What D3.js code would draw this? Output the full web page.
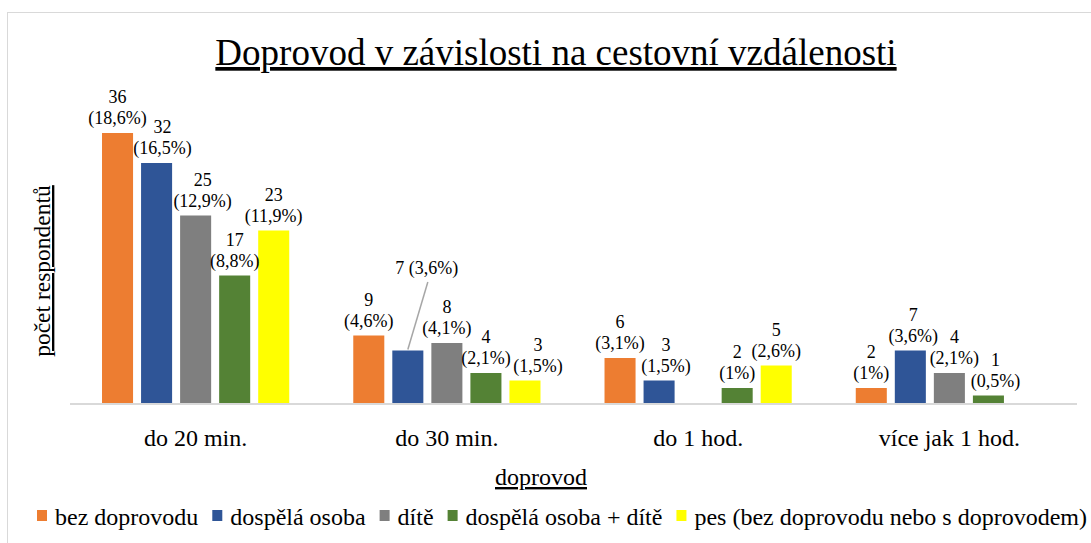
<!DOCTYPE html>
<html>
<head>
<meta charset="utf-8">
<script src="https://cdn.jsdelivr.net/npm/d3@7"></script>
<style>
  body { margin: 0; background: #fff; }
</style>
</head>
<body>
<svg id="chart" width="1091" height="543"></svg>
<script>
var categories = ["do 20 min.", "do 30 min.", "do 1 hod.", "více jak 1 hod."];
var seriesNames = ["bez doprovodu", "dospělá osoba", "dítě", "dospělá osoba + dítě", "pes (bez doprovodu nebo s doprovodem)"];
var colors = ["#ED7D31", "#2F5597", "#7F7F7F", "#548235", "#FFFF00"];
// values per series, one per category
var bezDoprovodu = [36, 9, 6, 2];
var dospelaOsoba = [32, 7, 3, 7];
var dite = [25, 8, 0, 4];
var dospelaDite = [17, 4, 2, 1];
var pes = [23, 3, 5, 0];
var pctBez = ["18,6%", "4,6%", "3,1%", "1%"];
var pctDospela = ["16,5%", "3,6%", "1,5%", "3,6%"];
var pctDite = ["12,9%", "4,1%", "", "2,1%"];
var pctDospelaDite = ["8,8%", "2,1%", "1%", "0,5%"];
var pctPes = ["11,9%", "1,5%", "2,6%", ""];

var values = [bezDoprovodu, dospelaOsoba, dite, dospelaDite, pes];
var pcts = [pctBez, pctDospela, pctDite, pctDospelaDite, pctPes];

// small label nudges (Excel moved some labels to avoid overlap)
var nudge = {"0|1": 6, "0|2": 7, "1|4": 13, "2|1": 7, "3|1": 3, "3|2": 5, "3|3": 7};

var FONT = "'Liberation Serif'";
var svg = d3.select("#chart");
var plotLeft = 70, plotRight = 1075, base = 403, plotTop = 103;

function addText(parent, size) {
  return parent.append("text").style("font-family", FONT).attr("font-size", size);
}

// frame
svg.append("rect").attr("x", 7.5).attr("y", 12.5).attr("width", 1100).attr("height", 560)
  .attr("fill", "none").attr("stroke", "#D9D9D9").attr("stroke-width", 1);

var x0 = d3.scaleBand().domain(categories).range([plotLeft, plotRight]);
var x1 = d3.scaleBand().domain(d3.range(seriesNames.length)).range([0, x0.bandwidth()])
  .paddingInner(8 / 39).paddingOuter(0.82);
var y = d3.scaleLinear().domain([0, 40]).range([base, plotTop]);

var rows = [];
categories.forEach(function(c, ci) {
  values.forEach(function(v, si) {
    if (v[ci] > 0) rows.push({cat: c, ci: ci, si: si, v: v[ci], p: pcts[si][ci]});
  });
});

svg.append("g").selectAll("rect").data(rows).enter().append("rect")
  .attr("x", function(d) { return x0(d.cat) + x1(d.si); })
  .attr("y", function(d) { return y(d.v); })
  .attr("width", x1.bandwidth())
  .attr("height", function(d) { return base - y(d.v); })
  .attr("fill", function(d) { return colors[d.si]; });

// axis line
svg.append("line").attr("x1", plotLeft).attr("x2", plotRight + 2).attr("y1", base + 1).attr("y2", base + 1)
  .attr("stroke", "#D9D9D9").attr("stroke-width", 2);

// data labels
var lab = svg.append("g").attr("text-anchor", "middle").attr("fill", "#000");
rows.forEach(function(d) {
  var cx = x0(d.cat) + x1(d.si) + x1.bandwidth() / 2;
  var ty = y(d.v);
  if (d.ci === 1 && d.si === 1) {
    // label pulled out with a leader line
    addText(lab, 18).attr("x", cx + 19).attr("y", 274).text(d.v + " (" + d.p + ")");
    svg.append("line").attr("x1", cx + 20).attr("y1", 282).attr("x2", cx).attr("y2", ty - 1)
      .attr("stroke", "#A6A6A6").attr("stroke-width", 1.5);
    return;
  }
  var dx = nudge[d.ci + "|" + d.si] || 0;
  addText(lab, 18).attr("x", cx + dx).attr("y", ty - 9).text("(" + d.p + ")");
  addText(lab, 18).attr("x", cx + dx).attr("y", ty - 30).text(d.v);
});

// category labels
categories.forEach(function(c) {
  addText(svg, 24).attr("x", x0(c) + x0.bandwidth() / 2).attr("y", 446)
    .attr("text-anchor", "middle").text(c);
});

// title
addText(svg, 37).attr("x", 556).attr("y", 65).attr("text-anchor", "middle")
  .attr("text-decoration", "underline").text("Doprovod v závislosti na cestovní vzdálenosti");

// axis titles
addText(svg, 24).attr("x", 541).attr("y", 485).attr("text-anchor", "middle")
  .attr("text-decoration", "underline").text("doprovod");
addText(svg, 23.5).attr("transform", "translate(50,271) rotate(-90)").attr("text-anchor", "middle")
  .attr("text-decoration", "underline").text("počet respondentů");

// legend
var lg = svg.append("g");
var lx = 37;
seriesNames.forEach(function(s, i) {
  lg.append("rect").attr("x", lx).attr("y", 510).attr("width", 10).attr("height", 11).attr("fill", colors[i]);
  var t = addText(lg, 24).attr("x", lx + 18).attr("y", 525).text(s);
  lx += 18 + t.node().getComputedTextLength() + 14;
});
</script>
</body>
</html>
